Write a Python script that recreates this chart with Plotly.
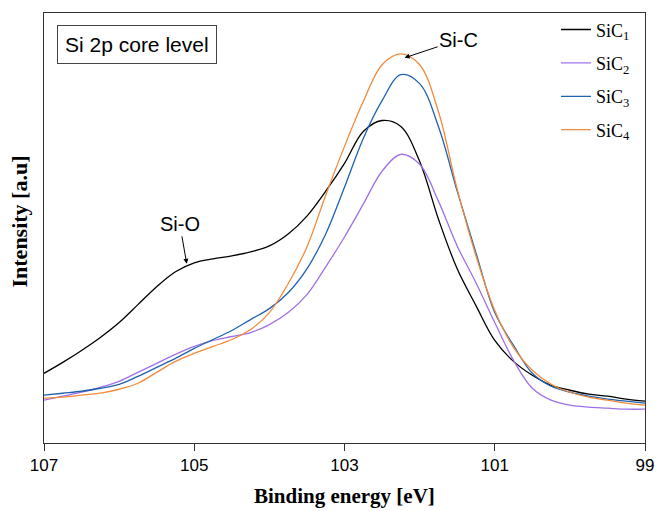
import plotly.graph_objects as go

energy = [107 - 0.25 * k for k in range(33)]

sic1 = [70, 81, 93, 106, 121, 139, 157, 172, 181, 185, 188, 192, 198, 210, 228, 253, 281,
        313, 324, 318, 283, 225, 175, 138, 103, 82, 68, 58, 53, 49, 47, 44, 42]
sic2 = [43, 47, 51, 56, 62, 71, 80, 89, 97, 103, 107, 111, 119, 131, 149, 177, 207,
        240, 273, 290, 280, 243, 198, 161, 121, 83, 55, 43, 38, 36, 35, 34, 34]
sic3 = [48, 50, 52, 55, 59, 67, 76, 85, 95, 104, 113, 124, 135, 151, 175, 210, 257,
        306, 344, 370, 361, 318, 253, 191, 131, 98, 70, 57, 51, 47, 44, 42, 40]
sic4 = [45, 46, 48, 50, 54, 60, 71, 82, 90, 97, 104, 114, 131, 160, 197, 249, 298,
        343, 380, 391, 380, 333, 255, 188, 133, 96, 73, 59, 51, 46, 43, 40, 38]

names = ["SiC<sub>1</sub>", "SiC<sub>2</sub>", "SiC<sub>3</sub>", "SiC<sub>4</sub>"]
colors = ["#000000", "#a070e8", "#1f62b0", "#f28a3c"]
series = [sic1, sic2, sic3, sic4]

x_ticks = [107, 105, 103, 101, 99]

serif = "Liberation Serif, Times New Roman, serif"
sans = "Liberation Sans, Arial, sans-serif"

fig = go.Figure()
for i, (nm, col, ys) in enumerate(zip(names, colors, series)):
    fig.add_trace(go.Scatter(x=energy, y=ys, mode="lines", name=nm, legendgroup=f"g{i}",
                             line=dict(color=col, width=1.3, shape="spline", smoothing=1.0)))

fig.update_layout(
    width=657, height=511,
    margin=dict(l=44, r=12, t=11, b=68),
    paper_bgcolor="white", plot_bgcolor="white",
    showlegend=True,
    legend=dict(x=0.985, y=1.004, xanchor="right", yanchor="top",
                font=dict(family=serif, size=18, color="black"),
                bgcolor="rgba(0,0,0,0)", tracegroupgap=7),
    xaxis=dict(range=[107, 99], tickvals=x_ticks, ticktext=[str(v) for v in x_ticks],
               ticks="outside", ticklen=7, tickcolor="#333", showgrid=False, zeroline=False,
               showline=True, linecolor="#333", linewidth=1, mirror=True, automargin=False,
               tickfont=dict(family=sans, size=17, color="black")),
    yaxis=dict(range=[0, 432], showticklabels=False, ticks="", showgrid=False, zeroline=False,
               showline=True, linecolor="#333", linewidth=1, mirror=True, automargin=False),
)

fig.add_annotation(xref="paper", yref="paper", x=0.5, y=-0.124, xanchor="center", yanchor="middle",
                   text="<b>Binding energy [eV]</b>", showarrow=False,
                   font=dict(family=serif, size=21, color="black"))
fig.add_annotation(xref="paper", yref="paper", x=-0.04, y=0.515, xanchor="center", yanchor="middle",
                   text="<b>Intensity [a.u]</b>", showarrow=False, textangle=-90,
                   font=dict(family=serif, size=22, color="black"))

fig.add_annotation(xref="paper", yref="paper", x=0.0216, y=0.972, xanchor="left", yanchor="top",
                   text="Si 2p core level", showarrow=False,
                   font=dict(family=sans, size=21, color="black"),
                   bordercolor="#444", borderwidth=1, borderpad=7, bgcolor="white")

fig.add_annotation(x=105.10, y=180, text="Si-O", showarrow=True, ax=-7, ay=-40,
                   arrowhead=2, arrowsize=1, arrowwidth=1, arrowcolor="black",
                   font=dict(family=sans, size=20, color="black"))
fig.add_annotation(x=102.2, y=387, text="Si-C", showarrow=True, ax=54, ay=-18,
                   arrowhead=2, arrowsize=1, arrowwidth=1, arrowcolor="black",
                   font=dict(family=sans, size=20, color="black"))

fig.write_html("out.html", config={"displayModeBar": False},
               post_script="document.body.style.margin='0';document.body.style.overflow='hidden';")
